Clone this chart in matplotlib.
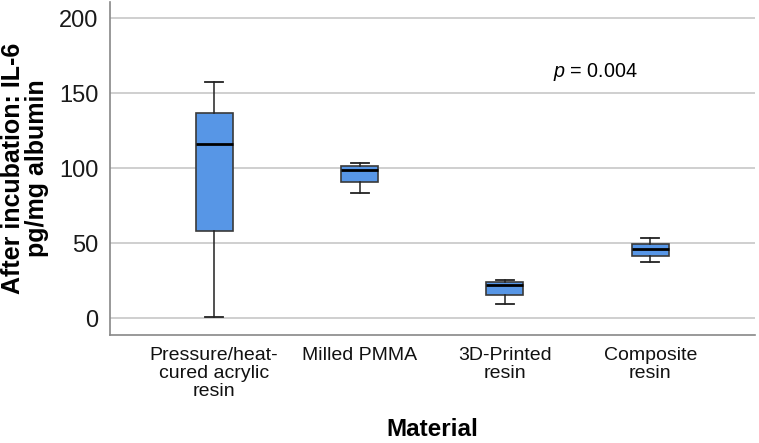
import matplotlib
matplotlib.use("Agg")
import matplotlib.pyplot as plt

# box statistics (pg/mg albumin)
materials = ["Pressure/heat-\ncured acrylic\nresin", "Milled PMMA",
             "3D-Printed\nresin", "Composite\nresin"]
whislo = [0.7, 83.7, 9.8, 37.3]
q1 = [58.4, 91.1, 15.8, 41.5]
med = [116.2, 98.9, 22.2, 46.0]
q3 = [136.7, 101.5, 24.0, 49.5]
whishi = [157.5, 103.8, 25.5, 53.3]
yticks = [0, 50, 100, 150, 200]
p_text = "$p$ = 0.004"

plt.rcParams["font.family"] = ["Liberation Sans", "DejaVu Sans"]
plt.rcParams["mathtext.fontset"] = "custom"
plt.rcParams["mathtext.it"] = "Liberation Sans:italic"
plt.rcParams["mathtext.rm"] = "Liberation Sans"

fig = plt.figure(figsize=(7.59, 4.43), dpi=100)
ax = fig.add_axes([109.5 / 759, 1 - 335 / 443, (755 - 109.5) / 759, (335 - 2) / 443])

stats = []
for i in range(len(materials)):
    stats.append({"whislo": whislo[i], "q1": q1[i], "med": med[i],
                  "q3": q3[i], "whishi": whishi[i], "fliers": []})

ax.bxp(stats, positions=[1, 2, 3, 4], widths=0.254, capwidths=0.124,
       patch_artist=True, showfliers=False,
       boxprops=dict(facecolor="#5796e6", edgecolor="#3a3a3a", linewidth=1.2),
       medianprops=dict(color="black", linewidth=2),
       whiskerprops=dict(color="#222222", linewidth=1.1),
       capprops=dict(color="#222222", linewidth=1.3), zorder=3)

ax.set_xlim(0.28, 4.72)
ax.set_ylim(-11.1, 210.9)
ax.set_yticks(yticks)
ax.yaxis.grid(True, color="#cccccc", linewidth=1.3)
ax.set_axisbelow(True)
for s in ["top", "right"]:
    ax.spines[s].set_visible(False)
for s in ["left", "bottom"]:
    ax.spines[s].set_color("#888888")
    ax.spines[s].set_linewidth(1.2)

ax.tick_params(axis="y", length=0, pad=8, labelsize=17, labelcolor="#1a1a1a")
ax.tick_params(axis="x", length=0, pad=9)
ax.set_xticks([1, 2, 3, 4])
ax.set_xticklabels(materials, fontsize=14, linespacing=1.06, color="#111111")

ax.set_ylabel("After incubation: IL-6\npg/mg albumin", fontsize=18,
              fontweight="bold", linespacing=1.0, va="center")
ax.yaxis.set_label_coords((25 - 109.5) / 645.5, 0.5)
fig.text(432 / 759, 1 - 430 / 443, "Material", fontsize=17.5, fontweight="bold",
         ha="center", va="center")

fig.text(595 / 759, 1 - 72 / 443, p_text, fontsize=14.2, ha="center", va="center")

fig.savefig("out.png", dpi=100)
